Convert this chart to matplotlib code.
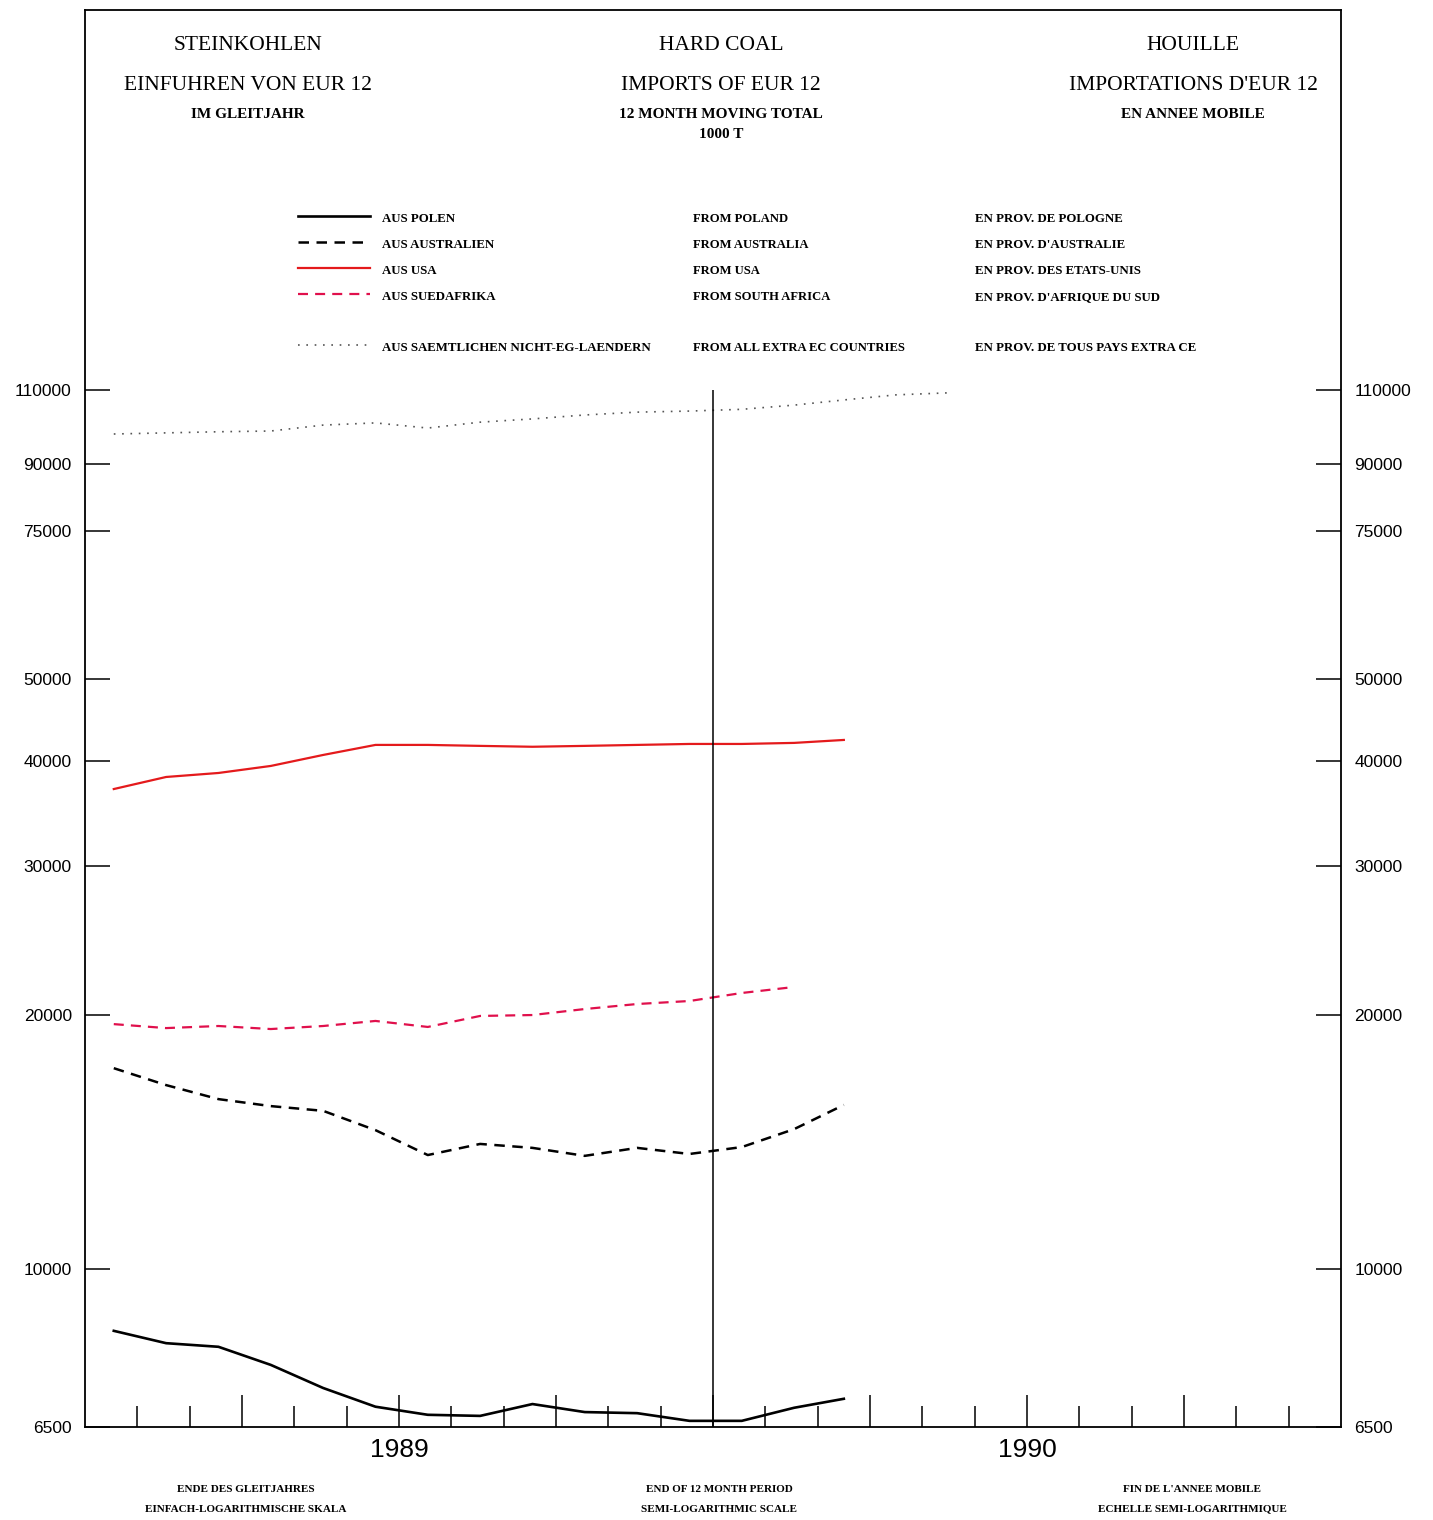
import numpy as np
import matplotlib
matplotlib.use("Agg")
import matplotlib.pyplot as plt
from matplotlib.lines import Line2D

# ---------------- data (1000 t, 12-month moving totals) ----------------
# month positions: 0 = start of 1989 (tick "1989"), 12 = start of 1990
months_ext = [-5.45, -4.45, -3.45, -2.45, -1.45, -0.45, 0.55, 1.55, 2.55, 3.55, 4.55, 5.55, 6.55, 7.55, 8.5, 9.5, 10.5]
months_15 = months_ext[:15]
months_14 = months_ext[:14]

poland = [8450, 8170, 8090, 7700, 7230, 6870, 6720, 6700, 6920, 6770, 6750, 6610, 6610, 6850, 7020]
australia = [17300, 16520, 15900, 15600, 15400, 14610, 13650, 14070, 13920, 13620, 13920, 13690, 13950, 14650, 15650]
usa = [37050, 38290, 38710, 39460, 40660, 41790, 41790, 41680, 41580, 41680, 41790, 41900, 41900, 42020, 42360]
south_africa = [19510, 19300, 19410, 19250, 19410, 19680, 19360, 19950, 20000, 20330, 20610, 20780, 21240, 21590]
extra_ec = [97600, 97900, 98200, 98400, 100000, 100600, 99200, 100800, 101700, 102800,
            103600, 103900, 104400, 105600, 107100, 108600, 109200]

y_ticks = [6500, 10000, 20000, 30000, 40000, 50000, 75000, 90000, 110000]
year_ticks = {0: "1989", 12: "1990"}
marker_month = 6
marker_top = 110000

titles = [
    ("STEINKOHLEN", "EINFUHREN VON EUR 12", "IM GLEITJAHR", ""),
    ("HARD COAL", "IMPORTS OF EUR 12", "12 MONTH MOVING TOTAL", "1000 T"),
    ("HOUILLE", "IMPORTATIONS D'EUR 12", "EN ANNEE MOBILE", ""),
]
legend_de = ["AUS POLEN", "AUS AUSTRALIEN", "AUS USA", "AUS SUEDAFRIKA", "AUS SAEMTLICHEN NICHT-EG-LAENDERN"]
legend_en = ["FROM POLAND", "FROM AUSTRALIA", "FROM USA", "FROM SOUTH AFRICA", "FROM ALL EXTRA EC COUNTRIES"]
legend_fr = ["EN PROV. DE POLOGNE", "EN PROV. D'AUSTRALIE", "EN PROV. DES ETATS-UNIS",
             "EN PROV. D'AFRIQUE DU SUD", "EN PROV. DE TOUS PAYS EXTRA CE"]
footer = [
    ("ENDE DES GLEITJAHRES", "EINFACH-LOGARITHMISCHE SKALA"),
    ("END OF 12 MONTH PERIOD", "SEMI-LOGARITHMIC SCALE"),
    ("FIN DE L'ANNEE MOBILE", "ECHELLE SEMI-LOGARITHMIQUE"),
]

# ---------------- styles ----------------
W, H = 1433, 1520
RED = "#e41a1c"
CRIMSON = "#e0104c"
GREY = "#555555"
SERIF = ["Liberation Serif", "DejaVu Serif"]
SANS = ["Liberation Sans", "DejaVu Sans"]

series = [
    (months_15, poland, dict(color="black", lw=1.9, ls="-")),
    (months_15, australia, dict(color="black", lw=1.8, ls=(0, (4.2, 3.0)))),
    (months_15, usa, dict(color=RED, lw=1.6, ls="-")),
    (months_14, south_africa, dict(color=CRIMSON, lw=1.6, ls=(0, (4.5, 3.2)))),
    (months_ext, extra_ec, dict(color=GREY, lw=1.2, ls=(0, (1, 4)))),
]

fig = plt.figure(figsize=(W / 100, H / 100), dpi=100)
fig.patch.set_facecolor("white")


def fx(px):
    return px / W


def fy(py):
    return 1 - py / H


ax = fig.add_axes([fx(85), 1 - 1427 / H, (1341 - 85) / W, (1427 - 10) / H])
ax.set_yscale("log")
ymin = 6500
ytop = 10 ** (np.log10(6500) + (1427 - 10) / 844.0)
ax.set_ylim(ymin, ytop)
ax.set_xlim(-6, 18)

for xs, ys, st in series:
    ax.plot(xs, ys, color=st["color"], lw=st["lw"], linestyle=st["ls"],
            solid_joinstyle="round", dash_capstyle="butt")

ax.vlines(marker_month, ymin, marker_top, color="black", lw=1.1)

# y axis
ax.set_yticks(y_ticks)
ax.set_yticklabels([str(v) for v in y_ticks])
ax.yaxis.set_minor_locator(matplotlib.ticker.NullLocator())
ax.tick_params(axis="y", which="major", direction="in", length=18, width=1.1,
               left=True, right=True, labelleft=True, labelright=True, pad=9.5,
               labelsize=12.5)
for lab in ax.get_yticklabels():
    lab.set_family(SANS)

# x axis
major_x = list(range(-3, 18, 3))
ax.set_xticks(major_x)
ax.set_xticklabels([year_ticks.get(m, "") for m in major_x])
ax.set_xticks(list(range(-5, 18)), minor=True)
ax.tick_params(axis="x", which="major", direction="in", length=23, width=1.1,
               pad=8, labelsize=19, top=False)
ax.tick_params(axis="x", which="minor", direction="in", length=15, width=1.1, top=False)
for lab in ax.get_xticklabels():
    lab.set_family(SANS)

for sp in ax.spines.values():
    sp.set_linewidth(1.3)
    sp.set_color("black")

# ---------------- titles ----------------
col_x = [248, 721, 1193]
for cx, (l1, l2, l3, l4) in zip(col_x, titles):
    fig.text(fx(cx), fy(46), l1, ha="center", va="center", family=SERIF, fontsize=15.5)
    fig.text(fx(cx), fy(86), l2, ha="center", va="center", family=SERIF, fontsize=15.5)
    fig.text(fx(cx), fy(115), l3, ha="center", va="center", family=SERIF, fontsize=11,
             weight="bold")
    if l4:
        fig.text(fx(cx), fy(135), l4, ha="center", va="center", family=SERIF, fontsize=11,
                 weight="bold")

# ---------------- legend ----------------
leg_y = [216, 242, 268, 294, 345]
for (xs, ys, st), y, de, en, fr in zip(series, leg_y, legend_de, legend_en, legend_fr):
    fig.add_artist(Line2D([fx(298), fx(370)], [fy(y), fy(y)], color=st["color"],
                          lw=st["lw"], linestyle=st["ls"], transform=fig.transFigure))
    fig.text(fx(382), fy(y + 3), de, ha="left", va="center", family=SERIF, fontsize=9.3,
             weight="bold")
    fig.text(fx(693), fy(y + 3), en, ha="left", va="center", family=SERIF, fontsize=9.1,
             weight="bold")
    fig.text(fx(975), fy(y + 3), fr, ha="left", va="center", family=SERIF, fontsize=9.3,
             weight="bold")

# ---------------- footer ----------------
foot_x = [246, 719, 1192]
for cx, (a, b) in zip(foot_x, footer):
    fig.text(fx(cx), fy(1489), a, ha="center", va="center", family=SERIF, fontsize=8,
             weight="bold")
    fig.text(fx(cx), fy(1509), b, ha="center", va="center", family=SERIF, fontsize=8,
             weight="bold")

fig.savefig("out.png", dpi=100, facecolor="white")
